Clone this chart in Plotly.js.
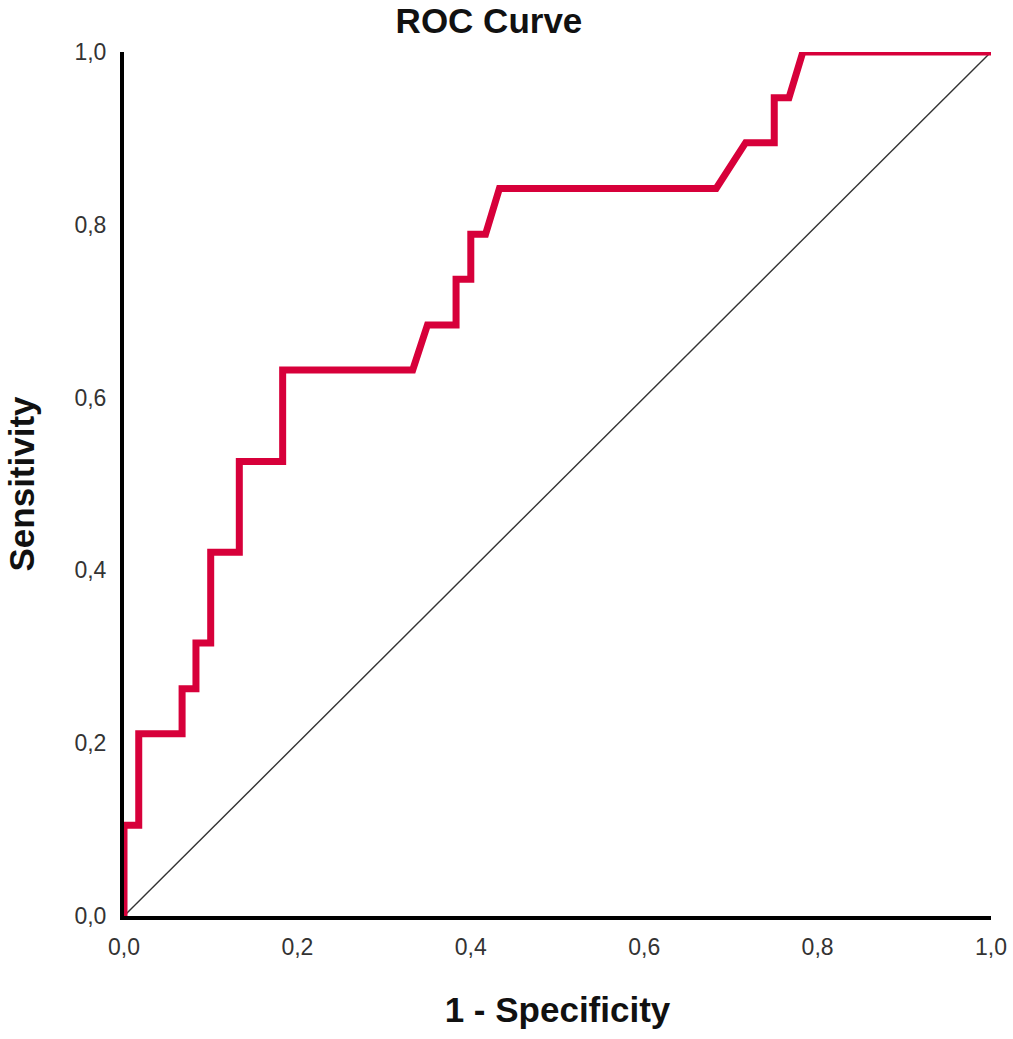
<!DOCTYPE html>
<html>
<head>
<meta charset="utf-8">
<script src="https://cdn.plot.ly/plotly-3.0.1.min.js"></script>
<style>html,body{margin:0;padding:0;background:#fff;}#chart{width:1013px;height:1039px;}</style>
</head>
<body>
<div id="chart"></div>
<script>
// ROC curve vertices (1 - Specificity, Sensitivity)
var fpr = [0, 0, 0.017, 0.017, 0.067, 0.067, 0.083, 0.083, 0.1, 0.1, 0.133, 0.133, 0.183, 0.183, 0.333, 0.35, 0.383, 0.383, 0.4, 0.4, 0.417, 0.433, 0.683, 0.717, 0.75, 0.75, 0.767, 0.783, 1];
var tpr = [0, 0.105, 0.105, 0.211, 0.211, 0.263, 0.263, 0.316, 0.316, 0.421, 0.421, 0.526, 0.526, 0.632, 0.632, 0.684, 0.684, 0.737, 0.737, 0.789, 0.789, 0.842, 0.842, 0.895, 0.895, 0.947, 0.947, 1, 1];
var refX = [0, 1];
var refY = [0, 1];
var tickVals = [0, 0.2, 0.4, 0.6, 0.8, 1.0];
var tickLabels = ["0,0", "0,2", "0,4", "0,6", "0,8", "1,0"];

var traces = [
  {x: refX, y: refY, mode: 'lines', line: {color: '#333333', width: 1.4}, hoverinfo: 'skip'},
  {x: fpr, y: tpr, mode: 'lines', line: {color: '#d7003a', width: 7, shape: 'linear'}, cliponaxis: false}
];

var fam = 'Liberation Sans, Arial, sans-serif';
var axisFont = {family: fam, size: 23, color: '#333333'};
var layout = {
  width: 1013, height: 1039,
  margin: {l: 124, r: 22, t: 52, b: 123},
  paper_bgcolor: '#ffffff', plot_bgcolor: '#ffffff',
  showlegend: false,
  title: {text: 'ROC Curve', xref: 'container', x: 0.4827, xanchor: 'center', yref: 'container', y: 0.9798, yanchor: 'middle',
          font: {family: fam, size: 35, color: '#111', weight: 'bold'}},
  xaxis: {
    range: [0, 1], tickvals: tickVals, ticktext: tickLabels, showgrid: false, zeroline: false,
    showline: true, linecolor: '#000', linewidth: 4, ticks: '', tickfont: axisFont, layer: 'below traces',
    ticklabelstandoff: 7,
    title: {text: '1 - Specificity', standoff: 40, font: {family: fam, size: 35, color: '#111', weight: 'bold'}}
  },
  yaxis: {
    range: [0, 1], tickvals: tickVals, ticktext: tickLabels, showgrid: false, zeroline: false,
    showline: true, linecolor: '#000', linewidth: 4, ticks: '', tickfont: axisFont, layer: 'below traces',
    ticklabelstandoff: 9,
    title: {text: 'Sensitivity', standoff: 30, font: {family: fam, size: 35, color: '#111', weight: 'bold'}}
  }
};
Plotly.newPlot('chart', traces, layout, {displayModeBar: false, staticPlot: true});
</script>
</body>
</html>
